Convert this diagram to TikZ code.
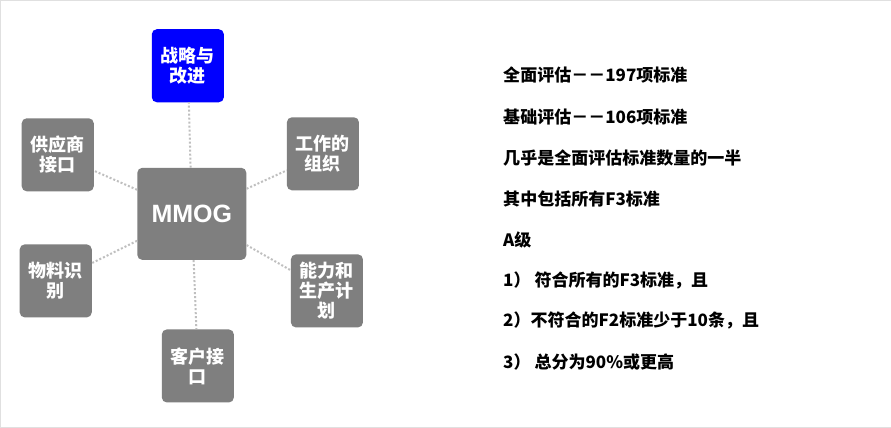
\documentclass[tikz,border=0pt]{standalone}
\usepackage{fontspec}
\setmainfont{Liberation Sans}
\newfontfamily\cjk{Noto Sans CJK SC}
\definecolor{boxgray}{HTML}{7F7F7F}
\definecolor{linegray}{HTML}{BFBFBF}
\begin{document}
\begin{tikzpicture}[x=1pt,y=-1pt,
  topic/.style={draw=none,fill=boxgray,rounded corners=5pt,text=white,
    minimum width=72pt,minimum height=73pt,align=center,
    font=\cjk\bfseries\fontsize{18}{20}\selectfont,inner sep=2pt},
  link/.style={draw=linegray,line width=2pt,dotted},
  item/.style={anchor=west,font=\cjk\bfseries\fontsize{17}{19}\selectfont,inner sep=0pt}]
  \draw[draw=black!12,fill=white] (0.5,0.5) rectangle (890.5,427.5);

  \node[topic,minimum width=109pt,minimum height=92pt,
    font=\bfseries\fontsize{25}{27}\selectfont] (mmog) at (192,214) {MMOG};
  \node[topic,fill=blue] (strat) at (188,66) {战略与\\改进};
  \node[topic] (supp) at (58,155) {供应商\\接口};
  \node[topic] (work) at (323,154) {工作的\\组织};
  \node[topic] (mat) at (56,281) {物料识\\别};
  \node[topic] (cap) at (327,291) {能力和\\生产计\\划};
  \node[topic] (cust) at (198,366) {客户接\\口};

  \foreach \t in {strat,supp,work,mat,cap,cust}
    \draw[link] (mmog) -- (\t);

  \node[item] (l1) at (503,75) {全面评估－－197项标准};
  \node[item] (l2) at (503,117) {基础评估－－106项标准};
  \node[item] (l3) at (503,158) {几乎是全面评估标准数量的一半};
  \node[item] (l4) at (503,199) {其中包括所有F3标准};
  \node[item] (l5) at (503,240) {A级};
  \node[item] (l6) at (503,281) {1）\ 符合所有的F3标准，且};
  \node[item] (l7) at (503,321) {2）不符合的F2标准少于10条，且};
  \node[item] (l8) at (503,362) {3）\ 总分为90\%或更高};
\end{tikzpicture}
\end{document}
